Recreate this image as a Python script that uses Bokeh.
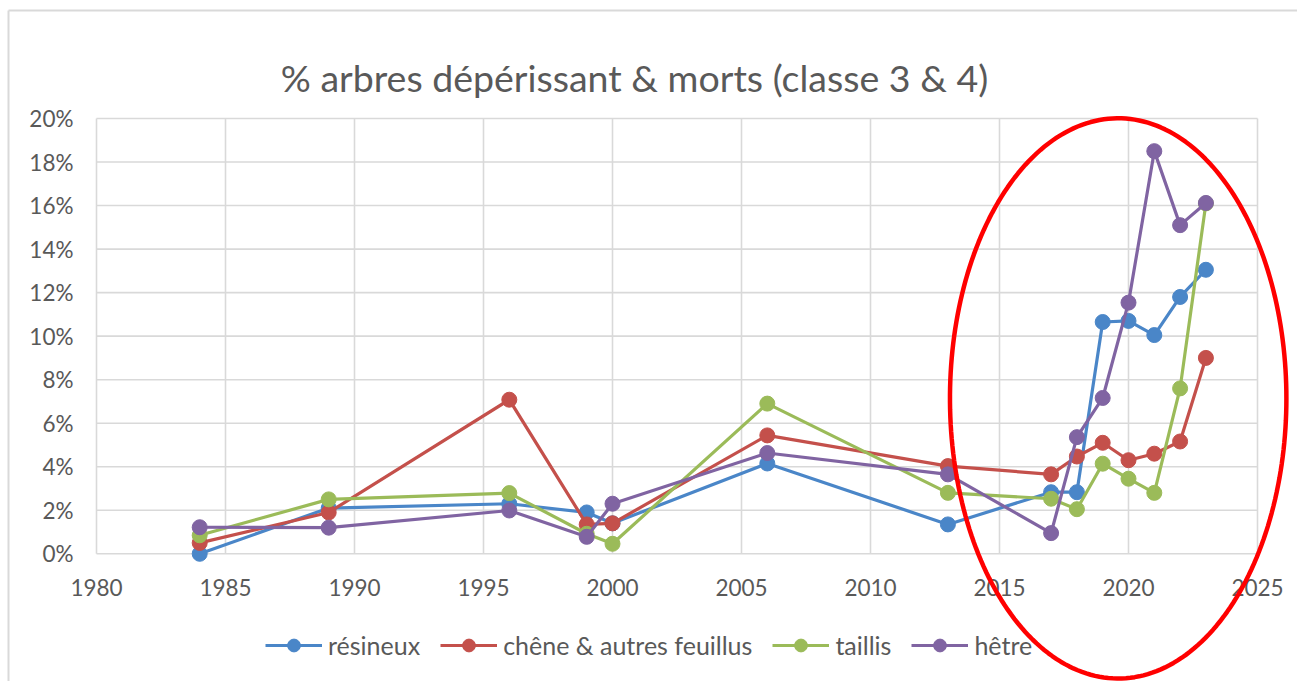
import numpy as np
from bokeh.plotting import figure
from bokeh.models import (Legend, LegendItem, NumeralTickFormatter, FixedTicker,
                          PolyAnnotation, Range1d, Label)
from bokeh.embed import file_html
from bokeh.resources import INLINE

# ---- data ----
years = [1984, 1989, 1996, 1999, 2000, 2006, 2013, 2017, 2018, 2019, 2020, 2021, 2022, 2023]
resineux = [0.0, 2.1, 2.3, 1.9, 1.4, 4.15, 1.35, 2.83, 2.83, 10.65, 10.7, 10.05, 11.8, 13.05]
chene = [0.5, 1.9, 7.08, 1.35, 1.4, 5.44, 4.03, 3.65, 4.47, 5.1, 4.3, 4.6, 5.16, 9.0]
taillis = [0.85, 2.5, 2.79, 0.92, 0.46, 6.9, 2.8, 2.53, 2.05, 4.14, 3.45, 2.8, 7.6, 16.1]
hetre = [1.22, 1.2, 1.99, 0.78, 2.3, 4.63, 3.65, 0.95, 5.36, 7.16, 11.54, 18.5, 15.1, 16.12]

series_names = ["résineux", "chêne & autres feuillus", "taillis", "hêtre"]
series_values = [resineux, chene, taillis, hetre]
series_colors = ["#4a86c8", "#c4504b", "#9bbb59", "#8064a2"]

x_ticks = [1980, 1985, 1990, 1995, 2000, 2005, 2010, 2015, 2020, 2025]
y_ticks = [0.0, 0.02, 0.04, 0.06, 0.08, 0.10, 0.12, 0.14, 0.16, 0.18, 0.20]

title_text = "% arbres dépérissant & morts (classe 3 & 4)"

# highlight ellipse (centre and radii in data units)
ell_cx, ell_cy, ell_rx, ell_ry = 2019.6, 0.0714, 6.52, 0.1287

FONT = "Lato"
GREY = "#595959"
GRID = "#d9d9d9"

# ---- layout (pixels) ----
W, H = 1297, 681
PLOT_L, PLOT_R, PLOT_T, PLOT_B = 96, 1257, 118, 553.3
X0, X1, Y0, Y1 = 1980, 2025, 0.0, 0.20
px_per_x = (PLOT_R - PLOT_L) / (X1 - X0)
px_per_y = (PLOT_B - PLOT_T) / (Y1 - Y0)


def dx(px):
    return X0 + (px - PLOT_L) / px_per_x


def dy(py):
    return Y0 + (PLOT_B - py) / px_per_y


p = figure(width=W, height=H, output_backend="svg", toolbar_location=None,
           x_range=Range1d(dx(0), dx(W)), y_range=Range1d(dy(H), dy(0)),
           min_border_left=0, min_border_right=0, min_border_top=0,
           min_border_bottom=0)

p.outline_line_color = None
p.grid.visible = False

# outer chart-area border (top and left edges)
p.segment(x0=[dx(8), dx(8)], x1=[dx(W + 5), dx(8)], y0=[dy(10), dy(10)],
          y1=[dy(10), dy(H + 5)], line_color=GRID, line_width=2)

# grid lines limited to the chart area
p.segment(x0=x_ticks, x1=x_ticks, y0=[Y0] * len(x_ticks), y1=[Y1] * len(x_ticks),
          line_color=GRID, line_width=1.6)
p.segment(x0=[X0] * len(y_ticks), x1=[X1] * len(y_ticks), y0=y_ticks, y1=y_ticks,
          line_color=GRID, line_width=1.6)

for ax in (p.xaxis[0], p.yaxis[0]):
    ax.axis_line_color = None
    ax.major_tick_line_color = None
    ax.minor_tick_line_color = None
    ax.major_tick_out = 0
    ax.major_tick_in = 0
    ax.major_label_text_font = FONT
    ax.major_label_text_font_size = "22.5px"
    ax.major_label_text_color = GREY

p.xaxis.ticker = FixedTicker(ticks=x_ticks)
p.xaxis.fixed_location = Y0
p.xaxis.major_label_standoff = 25
p.yaxis.ticker = FixedTicker(ticks=y_ticks)
p.yaxis.formatter = NumeralTickFormatter(format="0%")
p.yaxis.fixed_location = X0
p.yaxis.major_label_standoff = 23

title = Label(x=dx(634), y=dy(77), text=title_text, text_align="center",
              text_baseline="middle", text_font=FONT, text_font_size="37.5px",
              text_color=GREY)
p.add_layout(title)

items = []
for name, vals, col in zip(series_names, series_values, series_colors):
    yv = [v / 100.0 for v in vals]
    r1 = p.line(years, yv, line_color=col, line_width=3.2)
    r2 = p.scatter(years, yv, marker="circle", size=15, fill_color=col, line_color=col)
    items.append(LegendItem(label=name, renderers=[r1, r2]))

legend = Legend(items=items, orientation="horizontal", location=(265, 20),
                padding=0, spacing=20, glyph_width=57, glyph_height=32,
                label_standoff=6, label_text_font=FONT, label_text_font_size="25px",
                label_text_color=GREY, border_line_alpha=0, background_fill_alpha=0)
p.add_layout(legend, "center")

theta = np.linspace(0, 2 * np.pi, 240)
ell = PolyAnnotation(xs=list(ell_cx + ell_rx * np.cos(theta)),
                     ys=list(ell_cy + ell_ry * np.sin(theta)),
                     fill_alpha=0, line_color="#ff0000", line_alpha=1.0, line_width=4.5)
p.add_layout(ell)

open("out.html", "w").write(file_html(p, INLINE))
